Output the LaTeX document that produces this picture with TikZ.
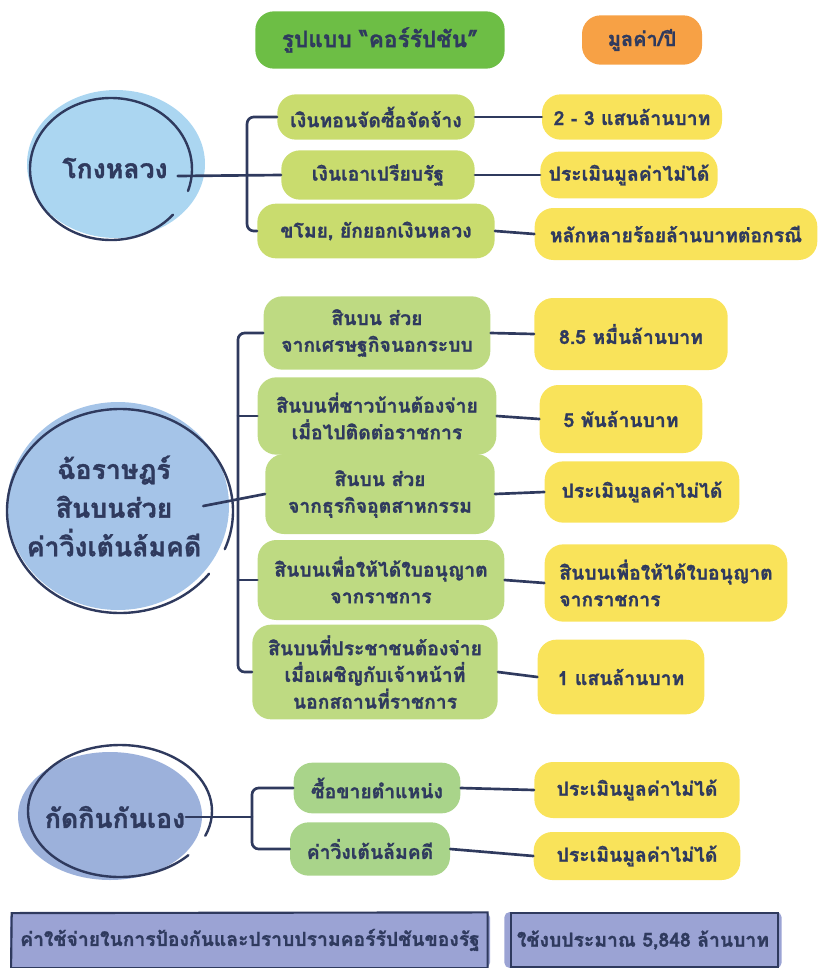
\documentclass[tikz,border=0pt]{standalone}
\usepackage{fontspec}
\newfontfamily\thai[Script=Thai, BoldFeatures={FakeBold=1.2}]{Loma}
\definecolor{ink}{HTML}{2F3A5E}
\definecolor{hdrgreen}{HTML}{6DBE45}
\definecolor{hdrorange}{HTML}{F7A145}
\definecolor{gA}{HTML}{C9DC6E}
\definecolor{gB}{HTML}{BEDA82}
\definecolor{gC}{HTML}{A9D48A}
\definecolor{yel}{HTML}{F9E35A}
\definecolor{blueA}{HTML}{ABD6F1}
\definecolor{blueB}{HTML}{A5C4E8}
\definecolor{blueC}{HTML}{9CB1DB}
\definecolor{purp}{HTML}{9BA3D4}
\tikzset{
  blob/.style={rounded corners=14pt, inner sep=3pt, align=center, text=ink,
    font=\thai\bfseries\fontsize{14.5}{20}\selectfont},
  gbox/.style={blob, fill=#1},
  ybox/.style={blob, fill=yel},
  conn/.style={draw=ink, line width=2pt, line cap=round, line join=round},
  ring/.style={draw=ink, line width=1.8pt, line cap=round},
  bigtxt/.style={text=ink, align=center, font=\thai\bfseries\fontsize{20}{29}\selectfont},
}
\begin{document}
\begin{tikzpicture}[x=0.75pt,y=-0.75pt]
\useasboundingbox (0,0) rectangle (821,968);

% header
\node[blob, fill=hdrgreen, minimum width=187pt, minimum height=43pt,
  font=\thai\bfseries\fontsize{17}{20}\selectfont] (hform) at (380,40) {รูปแบบ “คอร์รัปชัน”};
\node[blob, fill=hdrorange, minimum width=90pt, minimum height=37pt,
  font=\thai\bfseries\fontsize{15}{18}\selectfont] (hval) at (642,40) {มูลค่า/ปี};

% ===== section 1 =====
\fill[blueA] (116,164) ellipse[x radius=89, y radius=74];
\draw[ring] (111,169) ++(40:81 and 71) arc[start angle=40, end angle=378, x radius=81, y radius=71];
\node[bigtxt] (c1) at (115,168) {โกงหลวง};

\node[gbox=gA, minimum width=148pt, minimum height=34pt] (g11) at (376,117) {เงินทอนจัดซื้อจัดจ้าง};
\node[gbox=gA, minimum width=145pt, minimum height=37pt] (g12) at (378,175) {เงินเอาเปรียบรัฐ};
\node[gbox=gA, minimum width=178pt, minimum height=41pt] (g13) at (376,231) {ขโมย, ยักยอกเงินหลวง};

\node[ybox, minimum width=135pt, minimum height=34pt] (y11) at (632,117) {2 - 3 แสนล้านบาท};
\node[ybox, minimum width=133pt, minimum height=35pt] (y12) at (629,175) {ประเมินมูลค่าไม่ได้};
\node[ybox, minimum width=212pt, minimum height=39pt] (y13) at (676,234) {หลักหลายร้อยล้านบาทต่อกรณี};

\draw[conn, rounded corners=5pt] (g11.west) -- ++(-30,0) |- (g13.west);
\draw[conn] ([xshift=4pt,yshift=-6pt]c1.east) -- (g12.west);
\draw[conn] (g11.east) -- (y11.west);
\draw[conn] (g12.east) -- (y12.west);
\draw[conn] (g13.east) -- (y13.west);

% ===== section 2 =====
\fill[blueB] (118,506) ellipse[x radius=111, y radius=104];
\draw[ring] (120,511) ++(38:113 and 102) arc[start angle=38, end angle=382, x radius=113, y radius=102];
\node[bigtxt] (c2) at (114,506) {ฉ้อราษฎร์\\สินบนส่วย\\ค่าวิ่งเต้นล้มคดี};

\node[gbox=gB, minimum width=170pt, minimum height=55pt] (g21) at (377,333) {สินบน ส่วย\\จากเศรษฐกิจนอกระบบ};
\node[gbox=gB, minimum width=179pt, minimum height=58pt] (g22) at (377,416) {สินบนที่ชาวบ้านต้องจ่าย\\เมื่อไปติดต่อราชการ};
\node[gbox=gB, minimum width=172pt, minimum height=60pt] (g23) at (380,494) {สินบน ส่วย\\จากธุรกิจอุตสาหกรรม};
\node[gbox=gB, minimum width=185pt, minimum height=60pt] (g24) at (381,580) {สินบนเพื่อให้ได้ใบอนุญาต\\จากราชการ};
\node[gbox=gB, minimum width=184pt, minimum height=71pt] (g25) at (375,672) {สินบนที่ประชาชนต้องจ่าย\\เมื่อเผชิญกับเจ้าหน้าที่\\นอกสถานที่ราชการ};

\node[ybox, minimum width=145pt, minimum height=54pt] (y21) at (631,334) {8.5 หมื่นล้านบาท};
\node[ybox, minimum width=122pt, minimum height=51pt] (y22) at (621,419) {5 พันล้านบาท};
\node[ybox, minimum width=146pt, minimum height=46pt] (y23) at (642,492) {ประเมินมูลค่าไม่ได้};
\node[ybox, minimum width=182pt, minimum height=58pt, align=left] (y24) at (666,583) {สินบนเพื่อให้ได้ใบอนุญาต\\จากราชการ};
\node[ybox, minimum width=125pt, minimum height=56pt] (y25) at (621,677) {1 แสนล้านบาท};

\coordinate (s2) at (238,0);
\draw[conn, rounded corners=5pt] (g21.west) -- (g21.west -| s2) |- (g25.west);
\draw[conn] (g22.west) -- (g22.west -| s2);
\draw[conn] (g24.west) -- (g24.west -| s2);
\draw[conn] ([xshift=-2pt]c2.east) -- (g23.west);
\draw[conn] (g21.east) -- (y21.west);
\draw[conn] (g22.east) -- (y22.west);
\draw[conn] (g23.east) -- (y23.west);
\draw[conn] (g24.east) -- (y24.west);
\draw[conn] (g25.east) -- (y25.west);

% ===== section 3 =====
\fill[blueC] (110,816) ellipse[x radius=92, y radius=64];
\draw[ring] (120,811) ++(42:92 and 66) arc[start angle=42, end angle=382, x radius=92, y radius=66];
\node[bigtxt] (c3) at (115,817) {กัดกินกันเอง};

\node[gbox=gC, minimum width=125pt, minimum height=38pt] (g31) at (377,788) {ซื้อขายตำแหน่ง};
\node[gbox=gC, minimum width=120pt, minimum height=40pt] (g32) at (370,849) {ค่าวิ่งเต้นล้มคดี};
\node[ybox, minimum width=154pt, minimum height=42pt] (y31) at (637,790) {ประเมินมูลค่าไม่ได้};
\node[ybox, minimum width=155pt, minimum height=36pt] (y32) at (637,856) {ประเมินมูลค่าไม่ได้};

\coordinate (s3) at (252,0);
\coordinate (j3) at (252,817);
\draw[conn, rounded corners=5pt] (g31.west) -- (g31.west -| s3) |- (g32.west);
\draw[conn] ([xshift=-3pt]c3.east) -- (j3);
\draw[conn] (g31.east) -- (y31.west);
\draw[conn] (g32.east) -- (y32.west);

% ===== bottom =====
\node[fill=purp, rounded corners=4pt, minimum width=360pt, minimum height=42pt, text=ink,
  font=\thai\bfseries\fontsize{14.5}{18}\selectfont] (p1) at (250,940) {ค่าใช้จ่ายในการป้องกันและปราบปรามคอร์รัปชันของรัฐ};
\node[fill=purp, rounded corners=4pt, minimum width=208pt, minimum height=42pt, text=ink,
  font=\thai\bfseries\fontsize{14.5}{18}\selectfont] (p2) at (643,940) {ใช้งบประมาณ 5,848 ล้านบาท};
\draw[ring, line width=1.6pt] ([xshift=1.5pt,yshift=-1pt]p1.north west) -- ([xshift=-2pt,yshift=-0.5pt]p1.north east) -- ([xshift=-2pt]p1.south east) -- ([xshift=1pt]p1.south west) -- cycle;
\draw[ring, line width=1.6pt] ([xshift=5pt,yshift=-1pt]p2.north west) -- ([xshift=-3pt,yshift=-1pt]p2.north east) -- ([xshift=-3pt,yshift=1pt]p2.south east) -- ([xshift=5pt,yshift=1pt]p2.south west) -- cycle;
\end{tikzpicture}
\end{document}
